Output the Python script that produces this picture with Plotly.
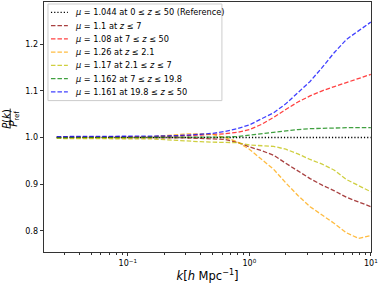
import plotly.graph_objects as go

k = [0.026, 0.040, 0.063, 0.100, 0.158, 0.251, 0.316, 0.398, 0.501, 0.631, 0.794,
     1.000, 1.259, 1.585, 1.995, 2.512, 3.162, 3.981, 5.012, 6.310, 7.943, 10.0]

ref_vals = [1.000] * len(k)
darkred_vals = [1.000, 1.000, 1.000, 1.000, 1.000, 0.999, 0.999, 0.998, 0.997, 0.996, 0.990,
                0.980, 0.972, 0.962, 0.945, 0.928, 0.912, 0.898, 0.886, 0.872, 0.862, 0.852]
red_vals = [1.001, 1.001, 1.001, 1.001, 1.002, 1.003, 1.004, 1.005, 1.006, 1.008, 1.011,
            1.017, 1.028, 1.043, 1.060, 1.076, 1.089, 1.100, 1.109, 1.118, 1.126, 1.135]
orange_vals = [1.000, 1.000, 1.000, 1.000, 1.002, 1.006, 1.008, 1.008, 1.006, 1.000, 0.991,
               0.975, 0.953, 0.932, 0.903, 0.876, 0.852, 0.834, 0.816, 0.796, 0.784, 0.790]
yellow_vals = [0.998, 0.998, 0.998, 0.998, 0.997, 0.994, 0.992, 0.991, 0.990, 0.990, 0.989,
               0.984, 0.982, 0.981, 0.975, 0.965, 0.953, 0.943, 0.930, 0.910, 0.897, 0.884]
green_vals = [1.000, 1.000, 1.000, 1.000, 1.000, 1.000, 1.000, 1.000, 1.000, 1.001, 1.002,
              1.005, 1.009, 1.012, 1.015, 1.017, 1.019, 1.020, 1.020, 1.021, 1.021, 1.021]
blue_vals = [1.002, 1.002, 1.002, 1.002, 1.003, 1.004, 1.005, 1.007, 1.009, 1.013, 1.019,
             1.027, 1.040, 1.053, 1.072, 1.095, 1.120, 1.150, 1.182, 1.210, 1.228, 1.247]

labels = [
    "<i>μ</i> = 1.044 at 0 ≤ <i>z</i> ≤ 50 (Reference)",
    "<i>μ</i> = 1.1 at <i>z</i> ≤ 7",
    "<i>μ</i> = 1.08 at 7 ≤ <i>z</i> ≤ 50",
    "<i>μ</i> = 1.26 at <i>z</i> ≤ 2.1",
    "<i>μ</i> = 1.17 at 2.1 ≤ <i>z</i> ≤ 7",
    "<i>μ</i> = 1.162 at 7 ≤ <i>z</i> ≤ 19.8",
    "<i>μ</i> = 1.161 at 19.8 ≤ <i>z</i> ≤ 50",
]
series = [ref_vals, darkred_vals, red_vals, orange_vals, yellow_vals, green_vals, blue_vals]
colors = ["rgba(0,0,0,1)", "rgba(139,0,0,0.75)", "rgba(255,0,0,0.75)", "rgba(255,165,0,0.75)",
          "rgba(191,191,0,0.75)", "rgba(0,128,0,0.75)", "rgba(0,0,255,0.75)"]
dashes = ["1.2px,2px"] + ["4.5px,2px"] * 6

W, H = 379, 283
ML, MR, MT, MB = 44, 6, 1, 31
PW, PH = W - ML - MR, H - MT - MB


def px_x(p):
    return (p - ML) / PW


def px_y(p):
    return (H - MB - p) / PH


fig = go.Figure()
for lab, vals, c, d in zip(labels, series, colors, dashes):
    fig.add_trace(go.Scatter(x=k, y=vals, mode="lines", name=lab, showlegend=False,
                             line=dict(color=c, width=1.3, dash=d)))

font = "DejaVu Sans"
fig.update_layout(
    width=W, height=H,
    margin=dict(l=ML, r=MR, t=MT, b=MB),
    plot_bgcolor="white", paper_bgcolor="white",
    font=dict(family=font, size=8, color="black"),
    showlegend=False,
)
fig.update_xaxes(
    type="log", range=[-1.69, 1.0015],
    tickvals=[0.1, 1, 10], ticktext=["10<sup>−1</sup>", "10<sup>0</sup>", "10<sup>1</sup>"],
    ticklabeloverflow="allow",
    ticks="outside", ticklen=3.5, tickwidth=0.8, tickcolor="#333",
    showline=True, linecolor="#333", linewidth=0.8, mirror=True, showgrid=False, zeroline=False,
    minor=dict(ticks="outside", ticklen=2, tickwidth=0.6, tickcolor="#333", showgrid=False,
               tickvals=[0.03, 0.04, 0.05, 0.06, 0.07, 0.08, 0.09,
                         0.2, 0.3, 0.4, 0.5, 0.6, 0.7, 0.8, 0.9,
                         2, 3, 4, 5, 6, 7, 8, 9]),
    title=dict(text="<i>k</i>[<i>h</i> Mpc<sup>−1</sup>]", font=dict(size=11.5), standoff=6),
)
fig.update_yaxes(
    range=[0.755, 1.290],
    tickvals=[0.8, 0.9, 1.0, 1.1, 1.2], ticktext=["0.8", "0.9", "1.0", "1.1", "1.2"],
    ticks="outside", ticklen=3.5, tickwidth=0.8, tickcolor="#333",
    showline=True, linecolor="#333", linewidth=0.8, mirror=True, showgrid=False, zeroline=False,
)

# y-axis label as a rotated fraction
fig.add_annotation(text="<i>P</i>(<i>k</i>)", xref="paper", yref="paper",
                   x=px_x(6), y=px_y(118), xanchor="center", yanchor="middle",
                   textangle=-90, showarrow=False, font=dict(size=10))
fig.add_annotation(text="<i>P</i><sub>ref</sub>", xref="paper", yref="paper",
                   x=px_x(14), y=px_y(118), xanchor="center", yanchor="middle",
                   textangle=-90, showarrow=False, font=dict(size=10))
fig.add_shape(type="line", xref="paper", yref="paper", x0=px_x(10), x1=px_x(10),
              y0=px_y(108), y1=px_y(128), line=dict(color="black", width=0.8))

# legend drawn as a box with sample lines and labels
fig.add_shape(type="rect", xref="paper", yref="paper",
              x0=px_x(48), x1=px_x(223), y0=px_y(3), y1=px_y(100),
              fillcolor="rgba(255,255,255,0.8)", line=dict(color="#cccccc", width=1))
row_y0, row_dy = 11.5, 13.3
for i, (lab, c, d) in enumerate(zip(labels, colors, dashes)):
    yy = row_y0 + i * row_dy
    fig.add_shape(type="line", xref="paper", yref="paper",
                  x0=px_x(51), x1=px_x(68), y0=px_y(yy), y1=px_y(yy),
                  line=dict(color=c, width=1.3, dash=d))
    fig.add_annotation(text=lab, xref="paper", yref="paper", x=px_x(73), y=px_y(yy),
                       xanchor="left", yanchor="middle", showarrow=False,
                       font=dict(size=8.2, color="black"))

fig.write_html("out.html", post_script="document.body.style.margin='0';",
               config={"displayModeBar": False})
